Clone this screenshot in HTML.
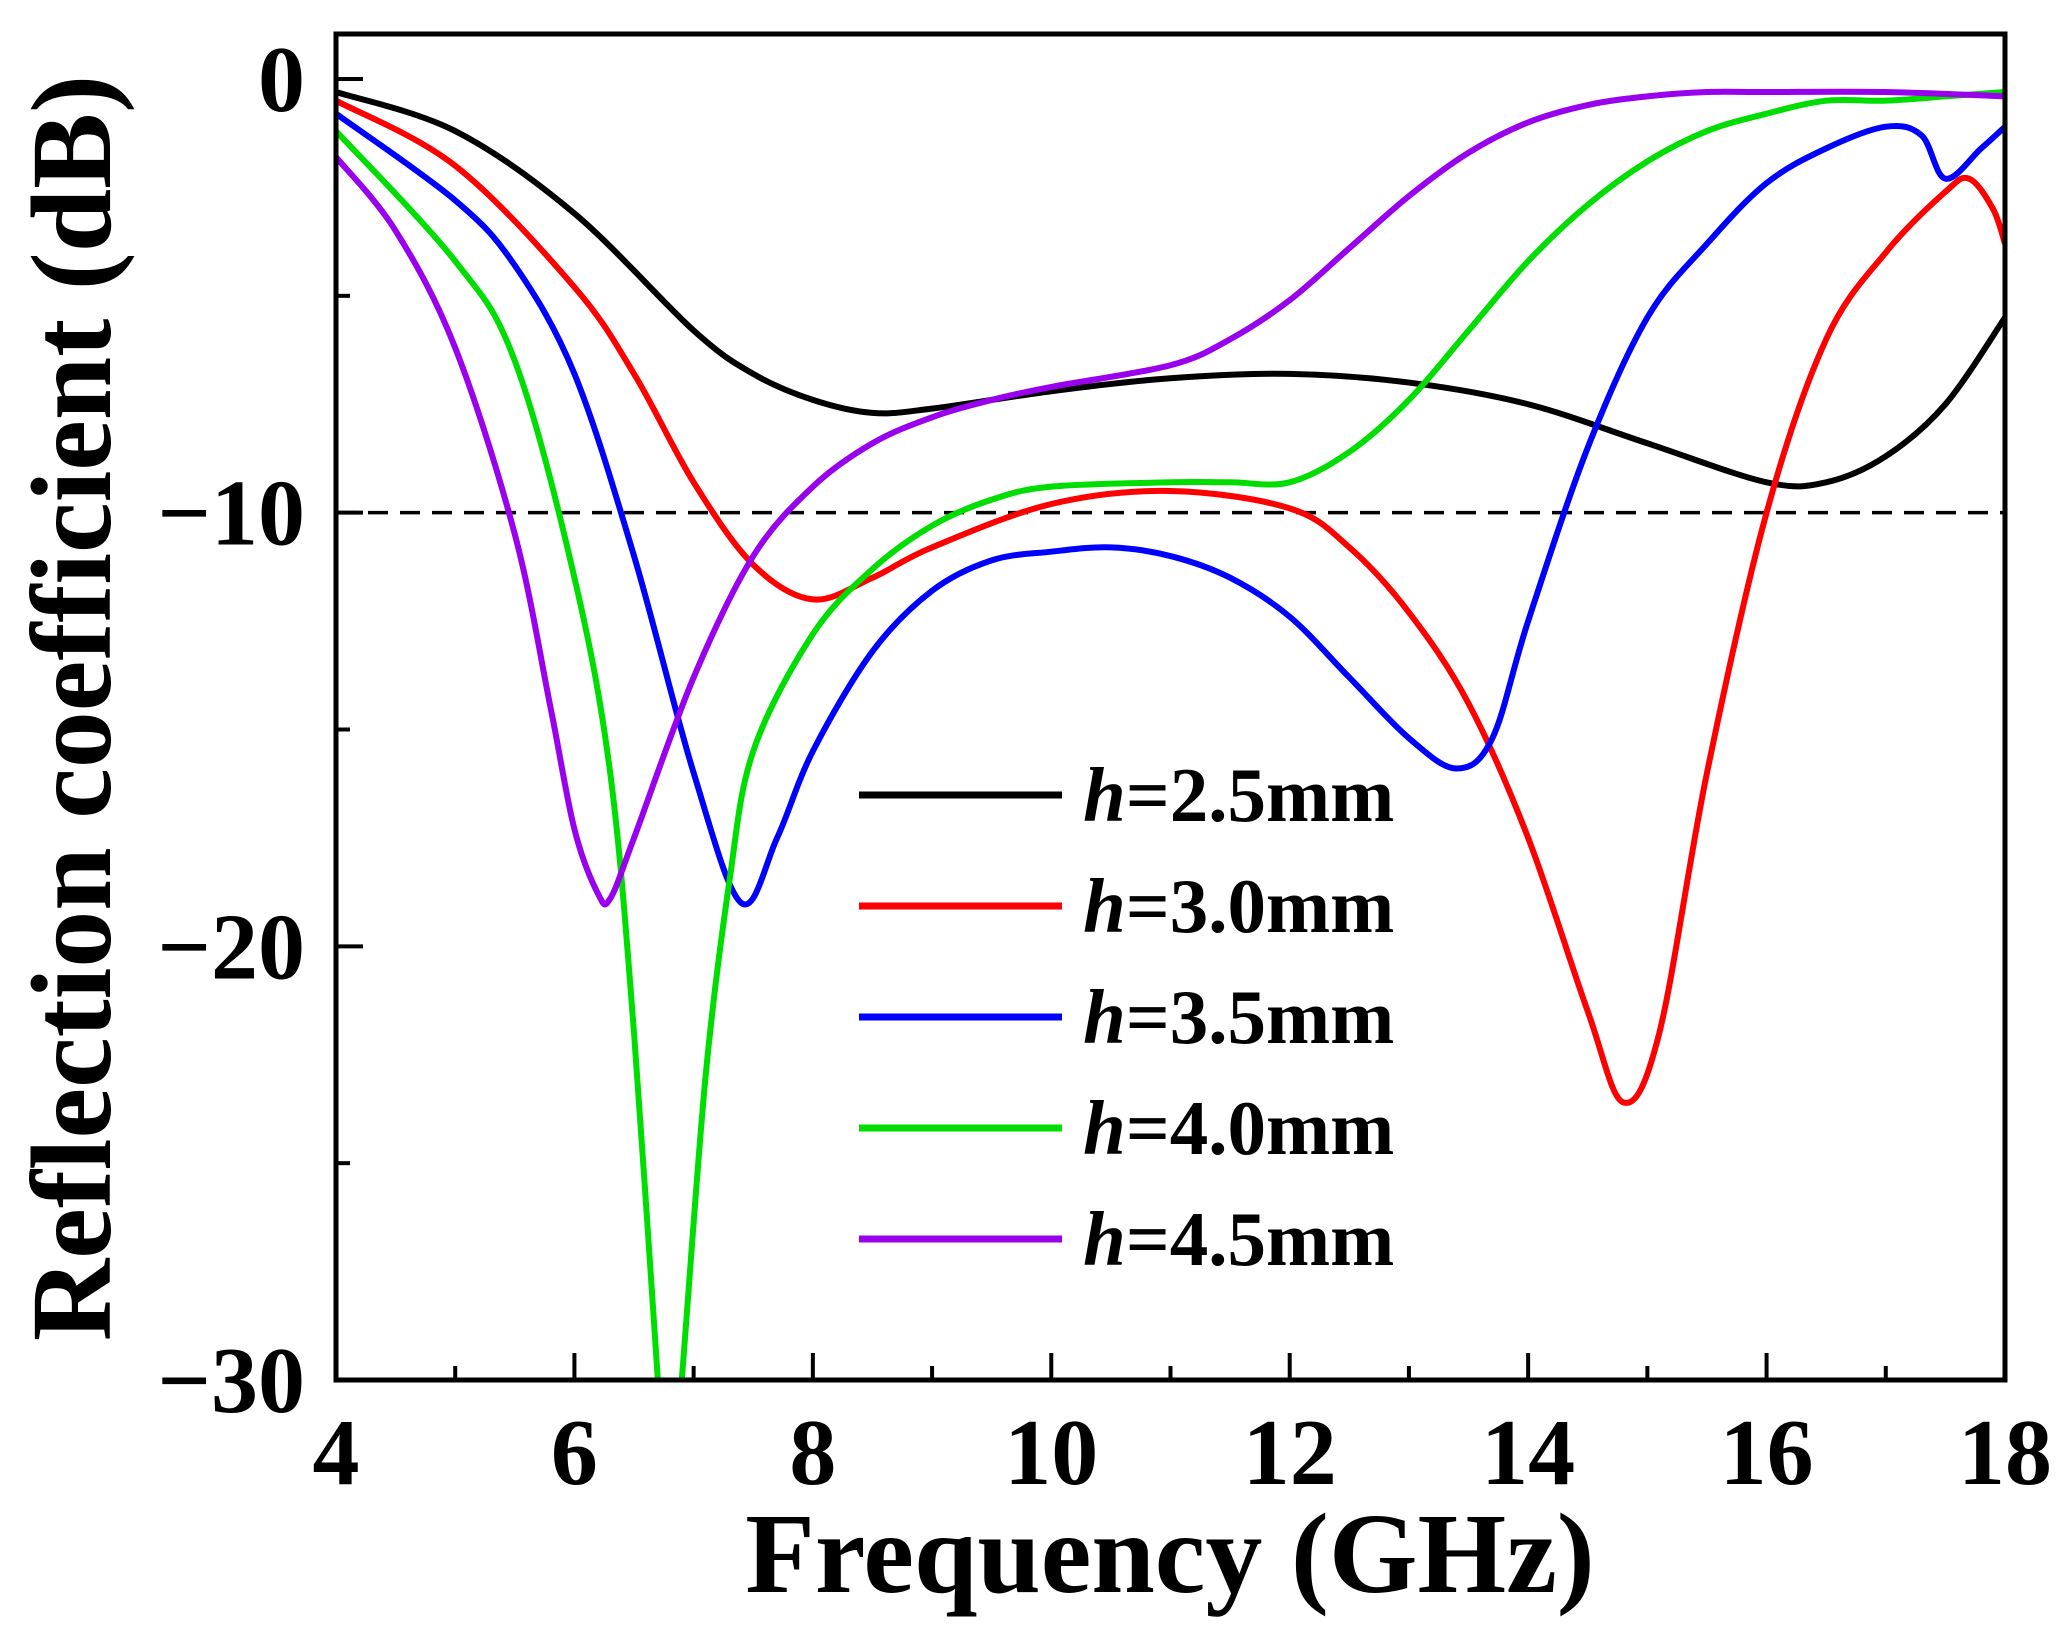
<!DOCTYPE html>
<html><head><meta charset="utf-8"><style>
html,body{margin:0;padding:0;background:#fff}
svg text{font-family:"Liberation Serif",serif;font-weight:bold;fill:#000}
</style></head><body>
<svg id="chart" width="2067" height="1628" viewBox="0 0 2067 1628">
<defs><clipPath id="plotclip"><rect x="336" y="34" width="1669" height="1346"/></clipPath></defs>
<g id="series" clip-path="url(#plotclip)"></g>
<g id="axes"></g>
<g id="legend"></g>
</svg>
<script>
const xTicks=[4,6,8,10,12,14,16,18];
const yTicks=[0,-10,-20,-30];
const yTickLabels=["0","\u221210","\u221220","\u221230"];
const seriesNames=["h=2.5mm","h=3.0mm","h=3.5mm","h=4.0mm","h=4.5mm"];
const seriesColors=["#000000","#ff0000","#0000ff","#00dd00","#9900ee"];
const s25x=[4,5,6,7,7.5,8,8.5,9,10,11,12,13,14,15,16,16.5,17,17.5,18];
const s25y=[-0.3,-1.2,-3.1,-5.8,-6.8,-7.4,-7.7,-7.6,-7.2,-6.9,-6.8,-7.0,-7.5,-8.4,-9.3,-9.3,-8.7,-7.5,-5.5];
const s30x=[4,5,6,6.5,7,7.5,8,8.5,9,10,11,12,12.5,13,13.5,14,14.5,14.8,15.1,15.5,16,16.5,17,17.5,17.7,17.9,18];
const s30y=[-0.5,-2.0,-4.8,-6.8,-9.3,-11.2,-12,-11.5,-10.8,-9.8,-9.5,-9.9,-10.8,-12.3,-14.4,-17.5,-21.5,-23.6,-22,-16,-10,-6,-4,-2.6,-2.3,-3,-3.8];
const s35x=[4,5,5.5,6,6.5,7,7.4,7.7,8,8.5,9,9.5,10,10.5,11,11.5,12,12.5,13,13.4,13.7,14,14.5,15,15.5,16,16.5,17,17.3,17.5,17.8,18];
const s35y=[-0.8,-2.8,-4.3,-6.8,-11,-16,-19,-17.5,-15.5,-13.2,-11.8,-11.1,-10.9,-10.8,-11,-11.5,-12.4,-13.8,-15.2,-15.9,-15.2,-12.5,-8.5,-5.5,-3.8,-2.4,-1.6,-1.1,-1.3,-2.3,-1.6,-1.1];
const s40x=[4,5,5.5,6,6.3,6.5,6.7,6.8,6.9,7.1,7.3,7.5,8,8.5,9,9.5,10,11,11.5,12,12.5,13,13.5,14,14.5,15,15.5,16,16.5,17,17.5,18];
const s40y=[-1.2,-4.2,-6.5,-11.5,-16,-22,-30,-33,-30,-23,-18.5,-15.5,-12.8,-11.3,-10.3,-9.7,-9.4,-9.3,-9.3,-9.3,-8.6,-7.4,-5.8,-4.2,-2.9,-1.9,-1.2,-0.8,-0.5,-0.5,-0.4,-0.3];
const s45x=[4,4.5,5,5.5,5.8,6,6.2,6.3,6.5,7,7.5,8,8.5,9,9.5,10,11,11.5,12,12.5,13,13.5,14,14.5,15,15.5,16,17,18];
const s45y=[-1.8,-3.5,-6.2,-10.5,-14.5,-17.3,-18.8,-18.9,-17.5,-13.8,-11,-9.4,-8.4,-7.8,-7.4,-7.1,-6.6,-6.0,-5.1,-3.9,-2.7,-1.7,-1.0,-0.6,-0.4,-0.3,-0.3,-0.3,-0.4];
const threshold=-10;

const NS="http://www.w3.org/2000/svg";
const X0=336,X1=2005,Y0=79,Y1=1380;
function xs(v){return X0+(v-4)/(18-4)*(X1-X0);}
function ys(v){return Y0+(0-v)/30*(Y1-Y0);}
function mk(tag,attrs,parent){const e=document.createElementNS(NS,tag);for(const k in attrs)e.setAttribute(k,attrs[k]);parent.appendChild(e);return e;}
function smooth(xa,ya){const p=xa.map((x,i)=>[xs(x),ys(ya[i])]);let d="M"+p[0][0]+","+p[0][1];
for(let i=0;i<p.length-1;i++){const a=p[i-1]||p[i],b=p[i],c=p[i+1],e=p[i+2]||c;
d+=" C"+(b[0]+(c[0]-a[0])/6)+","+(b[1]+(c[1]-a[1])/6)+" "+(c[0]-(e[0]-b[0])/6)+","+(c[1]-(e[1]-b[1])/6)+" "+c[0]+","+c[1];}return d;}
const sg=document.getElementById("series"),ax=document.getElementById("axes"),lg=document.getElementById("legend");
const dl=mk("line",{x1:X0,x2:X1,y1:ys(threshold),y2:ys(threshold),stroke:"#000","stroke-width":3.5,"stroke-dasharray":"20 12"},sg);


const allX=[s25x,s30x,s35x,s40x,s45x],allY=[s25y,s30y,s35y,s40y,s45y];
for(let i=0;i<5;i++){const p=mk("path",{d:smooth(allX[i],allY[i]),fill:"none",stroke:seriesColors[i],"stroke-width":6,"stroke-linejoin":"round"},sg);

}
const fr=mk("rect",{x:X0,y:34,width:X1-X0,height:Y1-34,fill:"none",stroke:"#000","stroke-width":5},ax);


for(let v=4;v<=18;v+=1){const maj=v%2===0;const t=mk("line",{x1:xs(v),x2:xs(v),y1:Y1,y2:Y1-(maj?27:14),stroke:"#000","stroke-width":4},ax);

}
xTicks.forEach(v=>{const t=mk("text",{x:xs(v),y:1484,"text-anchor":"middle","font-size":94},ax);t.textContent=v;

});
for(let v=0;v>=-30;v-=5){const maj=v%10===0;const t=mk("line",{x1:X0,x2:X0+(maj?27:14),y1:ys(v),y2:ys(v),stroke:"#000","stroke-width":4},ax);

}
yTicks.forEach((v,i)=>{const t=mk("text",{x:305,y:ys(v)+32,"text-anchor":"end","font-size":94},ax);t.textContent=yTickLabels[i];

});
const xt=mk("text",{x:1170,y:1592,"text-anchor":"middle","font-size":114},ax);xt.textContent="Frequency (GHz)";


const yt=mk("text",{x:0,y:0,"text-anchor":"middle","font-size":114,transform:"translate(110,708) rotate(-90)"},ax);yt.textContent="Reflection coefficient (dB)";


const legY=[795,906,1017,1128,1239];
seriesNames.forEach((n,i)=>{const g=mk("g",{},lg);


mk("line",{x1:859,x2:1062,y1:legY[i],y2:legY[i],stroke:seriesColors[i],"stroke-width":7},g);
const t=mk("text",{x:1083,y:legY[i]+26,"font-size":77},g);
const h=mk("tspan",{"font-style":"italic"},t);h.textContent="h";
const r=mk("tspan",{},t);r.textContent=n.slice(1);});
</script>
</body></html>
